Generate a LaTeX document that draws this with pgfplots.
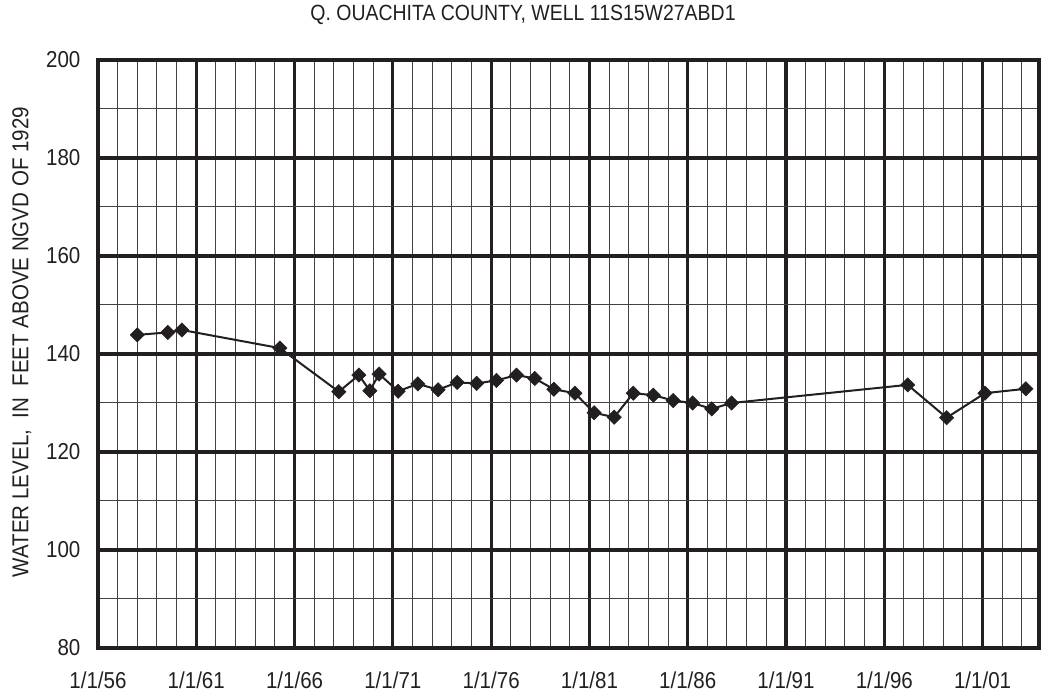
\documentclass[border=0pt]{standalone}
\usepackage{fontspec}
\setmainfont{Liberation Sans}
\usepackage{graphicx}
\usepackage{pgfplots}
\pgfplotsset{compat=1.18}
\definecolor{ink}{HTML}{231F20}
\begin{document}
\begin{tikzpicture}
\path[use as bounding box] (-73.5pt,-37.5pt) rectangle (710.25pt,486pt);
\begin{axis}[
  at={(0,0)}, anchor=south west,
  scale only axis, width=705.75pt, height=441pt,
  xmin=1956, xmax=2003.87, ymin=80, ymax=200,
  xtick={1956,1961,...,2001},
  xticklabels={1/1/56,1/1/61,1/1/66,1/1/71,1/1/76,1/1/81,1/1/86,1/1/91,1/1/96,1/1/01},
  minor xtick={1957,...,2003},
  ytick={80,100,...,200},
  minor ytick={90,110,...,190},
  grid=both,
  major grid style={line width=2.4pt, color=ink},
  minor grid style={line width=0.75pt, color=ink!85},
  axis line style={line width=2.4pt, color=ink},
  major tick length=0pt, minor tick length=0pt,
  tick style={draw=none},
  /pgf/number format/assume math mode=true,
  ticklabel style={font=\fontsize{15.4}{18}\selectfont, text=ink, transform shape, yscale=1.12},
  xticklabel style={anchor=base, yshift=-27pt},
  yticklabel style={anchor=east, inner sep=0pt, xshift=-13pt},
]
\addplot[line width=1.5pt, color=ink, mark=square*, mark size=3.8pt,
  mark options={rotate=45, solid, line width=0.4pt}] coordinates {
(1958.0,143.9)
(1959.55,144.4)
(1960.27,144.9)
(1965.25,141.2)
(1968.25,132.3)
(1969.27,135.7)
(1969.83,132.5)
(1970.3,135.9)
(1971.27,132.4)
(1972.27,133.9)
(1973.3,132.7)
(1974.27,134.2)
(1975.26,134.0)
(1976.27,134.6)
(1977.29,135.7)
(1978.22,135.0)
(1979.19,132.8)
(1980.26,132.0)
(1981.24,128.0)
(1982.26,127.1)
(1983.23,132.0)
(1984.25,131.6)
(1985.26,130.5)
(1986.25,130.0)
(1987.22,128.8)
(1988.23,130.0)
(1997.19,133.7)
(1999.17,127.0)
(2001.12,132.0)
(2003.2,132.9)
};
\end{axis}
\node[font=\fontsize{14.6}{17}\selectfont, text=ink] at (318.75pt,474.75pt) {\scalebox{1}[1.13]{Q. OUACHITA COUNTY, WELL 11S15W27ABD1}};
\node[rotate=90, font=\fontsize{15.4}{18}\selectfont, text=ink] at (-57.2pt,229.5pt) {\scalebox{1}[1.12]{WATER LEVEL,\ \ IN\ \ FEET ABOVE NGVD OF 1929}};
\end{tikzpicture}
\end{document}
